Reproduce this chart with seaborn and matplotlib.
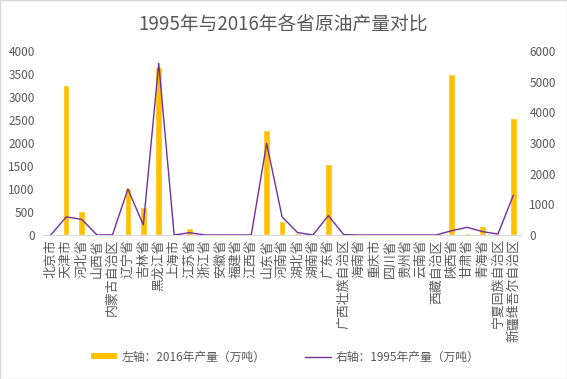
import numpy as np
import pandas as pd
import seaborn as sns
from matplotlib import pyplot as plt
from matplotlib.patches import Patch
from matplotlib.lines import Line2D

provinces = [
    "北京市", "天津市", "河北省", "山西省", "内蒙古自治区", "辽宁省", "吉林省",
    "黑龙江省", "上海市", "江苏省", "浙江省", "安徽省", "福建省", "江西省",
    "山东省", "河南省", "湖北省", "湖南省", "广东省", "广西壮族自治区",
    "海南省", "重庆市", "四川省", "贵州省", "云南省", "西藏自治区", "陕西省",
    "甘肃省", "青海省", "宁夏回族自治区", "新疆维吾尔自治区",
]
# left axis: 2016 output (10k t)
output_2016 = [
    0, 3270, 530, 0, 15, 1030, 600,
    3660, 0, 155, 0, 0, 0, 0,
    2290, 310, 50, 0, 1550, 20,
    30, 0, 10, 0, 0, 0, 3500,
    50, 200, 0, 2550,
]
# right axis: 1995 output (10k t)
output_1995 = [
    0, 590, 510, 0, 5, 1500, 330,
    5600, 0, 75, 0, 0, 0, 0,
    2990, 590, 80, 0, 630, 10,
    0, 0, 0, 0, 0, 0, 140,
    250, 110, 30, 1300,
]

df = pd.DataFrame({"省份": provinces, "2016": output_2016, "1995": output_1995})

bar_color = "#FFC000"
line_color = "#7030A0"
text_color = "#595959"

sns.set_style("white")
plt.rcParams["font.family"] = ["Noto Sans CJK SC", "DejaVu Sans"]

fig = plt.figure(figsize=(5.67, 3.79), dpi=100)
ax = fig.add_axes([0.076, 0.38, 0.843, 0.485])

sns.barplot(data=df, x="省份", y="2016", color=bar_color, width=0.42,
            saturation=1, ax=ax)
ax.set_ylim(0, 4000)
ax.set_yticks(range(0, 4001, 500))
ax.set_xlim(-0.5, len(provinces) - 0.5)

ax2 = ax.twinx()
sns.lineplot(data=df, x="省份", y="1995", color=line_color, linewidth=1,
             ax=ax2, sort=False)
ax2.set_ylim(0, 6000)
ax2.set_yticks(range(0, 6001, 1000))
ax2.set_xlim(-0.5, len(provinces) - 0.5)

for a in (ax, ax2):
    a.set_xlabel("")
    a.set_ylabel("")
    for s in a.spines.values():
        s.set_visible(False)
    a.tick_params(axis="y", length=0, labelsize=8.5, labelcolor=text_color, pad=6)
ax.spines["bottom"].set_visible(True)
ax.spines["bottom"].set_color("#D9D9D9")
ax.tick_params(axis="x", length=0, labelsize=9.3, labelcolor=text_color, pad=3)
ax.set_xticks(range(len(provinces)))
ax.set_xticklabels(provinces, rotation=90, va="top", ha="center")

fig.text(0.5, 0.937, "1995年与2016年各省原油产量对比", ha="center", va="center",
         fontsize=13.5, color=text_color)

handles = [
    Patch(facecolor=bar_color, edgecolor="none"),
    Line2D([0], [0], color=line_color, linewidth=1),
]
labels = ["左轴：2016年产量（万吨）", "右轴：1995年产量（万吨）"]
fig.legend(handles, labels, loc="center", bbox_to_anchor=(0.503, 0.058), ncol=2,
           frameon=False, fontsize=8.5, labelcolor=text_color, handlelength=2.2,
           handleheight=0.4, columnspacing=3.3, handletextpad=0.4)

fig.patches.append(plt.Rectangle((0, 0), 1, 1, transform=fig.transFigure,
                                 fill=False, edgecolor="#D9D9D9", linewidth=1))

fig.savefig("out.png", dpi=100)
plt.close(fig)
